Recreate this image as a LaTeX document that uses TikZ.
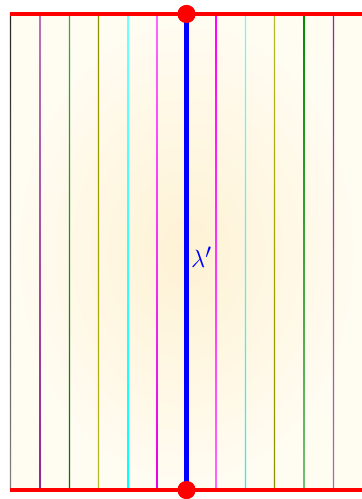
\documentclass[tikz,border=0pt]{standalone}
\begin{document}
\begin{tikzpicture}[x=1pt,y=1pt,
  redline/.style={red, line width=4pt},
  dot/.style={circle, fill=red, inner sep=0pt, minimum size=18pt},
  lam/.style={text=blue, font=\fontsize{28}{32}\selectfont, inner sep=0pt}]
\definecolor{bgin}{RGB}{254,242,212}
\definecolor{bgout}{RGB}{255,252,242}
\useasboundingbox (0,0) rectangle (362,499);
\shade[inner color=bgin, outer color=bgout] (10,9) rectangle (362,485);
% vertical colored lines (gradient top to bottom)
\foreach \x/\ct/\cb in {
  10.5/black!85/black!50,
  40/violet!55/violet!85,
  69.5/green!60!black!80/green!45!black,
  98.5/olive!90/olive!55,
  128/cyan!55/cyan,
  157/magenta!60/magenta!90!black,
  216/magenta/magenta!60,
  245.5/cyan!60/cyan,
  274.5/olive!55/olive!90,
  304/green!55!black/green!55!black!55,
  333.5/violet!85/violet!60}{
  \shade[top color=\ct, bottom color=\cb] (\x-0.55,9) rectangle (\x+0.55,485);
}
\coordinate (tl) at (10,485);
\coordinate (tr) at (362,485);
\coordinate (bl) at (10,9);
\coordinate (br) at (362,9);
\draw[redline] (tl) -- (tr);
\draw[redline] (bl) -- (br);
\node[dot] (top) at (186.5,485) {};
\node[dot] (bot) at (186.5,9) {};
\draw[blue, line width=4.2pt] (top.center) -- (bot.center);
\node[dot] at (top) {};
\node[dot] at (bot) {};
\node[lam, anchor=west] (lbl) at (191,242) {$\lambda'$};
\end{tikzpicture}
\end{document}
